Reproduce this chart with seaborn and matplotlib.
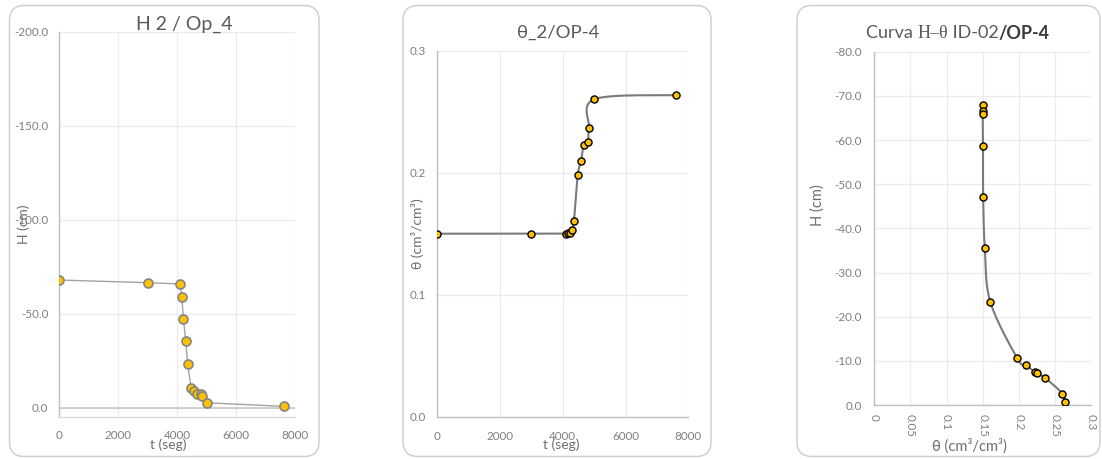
import numpy as np
import matplotlib
matplotlib.use("Agg")
import matplotlib.pyplot as plt
import seaborn as sns
from matplotlib.patches import FancyBboxPatch
from matplotlib.ticker import MultipleLocator, FuncFormatter, FixedLocator

sns.set_theme(style="white")
plt.rcParams['font.family'] = ['Lato', 'DejaVu Sans']
plt.rcParams['axes.unicode_minus'] = False

# Infiltration test readings (ID-02 / OP-4)
t_seg = [0, 3000, 4100, 4160, 4215, 4290, 4355, 4475, 4585, 4660, 4800, 4835, 5010, 7610]
h_cm = [-67.9, -66.5, -65.8, -58.7, -47.0, -35.5, -23.4, -10.6, -9.0, -7.5, -7.3, -6.1, -2.6, -0.7]
theta = [0.150, 0.150, 0.150, 0.1505, 0.1507, 0.153, 0.1605, 0.1978, 0.2098, 0.2225, 0.2255,
         0.2368, 0.2603, 0.2636]

h_ticks = [-200, -150, -100, -50, 0]
t_ticks = [0, 2000, 4000, 6000, 8000]
theta_ticks = [0.0, 0.1, 0.2, 0.3]
hcurve_ticks = [-80, -70, -60, -50, -40, -30, -20, -10, 0]
theta_x_ticks = [0, 0.05, 0.1, 0.15, 0.2, 0.25, 0.3]

W, H = 1102, 459
fig = plt.figure(figsize=(W / 100, H / 100), dpi=100)
fig.patch.set_facecolor('white')

# rounded chart cards
bg = fig.add_axes([0, 0, 1, 1])
bg.set_xlim(0, W)
bg.set_ylim(H, 0)
bg.axis('off')
for x0, x1 in [(9.5, 319), (403, 711), (797, 1100)]:
    bg.add_patch(FancyBboxPatch((x0, 5.5), x1 - x0, 451,
                                boxstyle="round,pad=0,rounding_size=15",
                                fc='white', ec='#D0D0D0', lw=1.1))


def px_axes(l, r, t, b):
    ax = fig.add_axes([l / W, 1 - b / H, (r - l) / W, (b - t) / H])
    ax.set_facecolor('none')
    return ax


def smooth(ax, x, y, n=24):
    pts = ax.transData.transform(np.column_stack([x, y]))
    P = np.vstack([pts[0], pts, pts[-1]])
    out = []
    s = np.linspace(0, 1, n)[:, None]
    for i in range(1, len(P) - 2):
        p0, p1, p2, p3 = P[i - 1], P[i], P[i + 1], P[i + 2]
        c1 = p1 + (p2 - p0) / 6
        c2 = p2 - (p3 - p1) / 6
        seg = (1 - s) ** 3 * p1 + 3 * (1 - s) ** 2 * s * c1 + 3 * (1 - s) * s ** 2 * c2 + s ** 3 * p2
        out.append(seg if i == 1 else seg[1:])
    return ax.transData.inverted().transform(np.vstack(out))


GRID = '#EBEBEB'
AXC = '#BFBFBF'
TICKC = '#7F7F7F'
LABC = '#6E6E6E'
TITC = '#595959'


def style(ax):
    ax.grid(True, color=GRID, lw=0.9)
    ax.set_axisbelow(True)
    for sp in ['top', 'right']:
        ax.spines[sp].set_visible(False)
    for sp in ['left', 'bottom']:
        ax.spines[sp].set_color(AXC)
        ax.spines[sp].set_linewidth(1.0)
    ax.tick_params(colors=TICKC, labelsize=8.4, labelcolor=TICKC)


# ---- H(t) ----
ax1 = px_axes(59.3, 295, 31.7, 416.7)
ax1.set_xlim(0, 8000)
ax1.set_ylim(4.8, -200)
style(ax1)
ax1.spines['bottom'].set_color('#DADADA')
ax1.yaxis.set_major_locator(FixedLocator(h_ticks))
ax1.xaxis.set_major_locator(FixedLocator(t_ticks))
ax1.yaxis.set_major_formatter(FuncFormatter(lambda v, p: f"{v:.1f}"))
ax1.xaxis.set_major_formatter(FuncFormatter(lambda v, p: f"{v:.0f}"))
ax1.tick_params(axis='y', length=4, width=0.9, color=AXC, pad=4)
ax1.tick_params(axis='x', length=0, pad=9.5)
ax1.axhline(0, color='#C4C4C4', lw=1.1, zorder=1)
sns.lineplot(x=t_seg, y=h_cm, ax=ax1, sort=False, estimator=None, color='#A3A3A3', lw=1.0, zorder=2)
sns.scatterplot(x=t_seg, y=h_cm, ax=ax1, s=42, color='#FFC000', edgecolor='#858585',
                linewidth=1.2, zorder=3)
ax1.set_xlabel('t (seg)', fontsize=10, color=LABC)
ax1.set_ylabel('H (cm)', fontsize=10, color=LABC)
ax1.xaxis.set_label_coords(0.462, -0.074)
ax1.yaxis.set_label_coords(-0.150, 0.50)
ax1.xaxis.label.set_va('center')
ax1.yaxis.label.set_va('center')

# ---- theta(t) ----
ax2 = px_axes(437.3, 688.3, 50.7, 416.7)
ax2.set_xlim(0, 8000)
ax2.set_ylim(0, 0.3)
style(ax2)
ax2.yaxis.set_major_locator(FixedLocator(theta_ticks))
ax2.xaxis.set_major_locator(FixedLocator(t_ticks))
ax2.yaxis.set_major_formatter(FuncFormatter(lambda v, p: f"{v:.1f}"))
ax2.xaxis.set_major_formatter(FuncFormatter(lambda v, p: f"{v:.0f}"))
ax2.tick_params(axis='both', length=4, width=0.9, color=AXC)
ax2.tick_params(axis='x', pad=6.5)
ax2.tick_params(axis='y', pad=4.5)
sm2 = smooth(ax2, t_seg, theta)
sns.lineplot(x=sm2[:, 0], y=sm2[:, 1], ax=ax2, sort=False, estimator=None, color='#7A7A7A',
             lw=1.5, zorder=2)
sns.scatterplot(x=t_seg, y=theta, ax=ax2, s=26, color='#FFC000', edgecolor='black',
                linewidth=1.0, zorder=3)
ax2.set_xlabel('t (seg)', fontsize=10, color=LABC)
ax2.set_ylabel('θ (cm³/cm³)', fontsize=10, color=LABC)
ax2.xaxis.set_label_coords(0.495, -0.077)
ax2.yaxis.set_label_coords(-0.077, 0.50)
ax2.xaxis.label.set_va('center')
ax2.yaxis.label.set_va('center')

# ---- H(theta) ----
ax3 = px_axes(874.3, 1091, 51.7, 405)
ax3.set_xlim(0, 0.3)
ax3.set_ylim(0, -80)
style(ax3)
ax3.yaxis.set_major_locator(FixedLocator(hcurve_ticks))
ax3.xaxis.set_major_locator(FixedLocator(theta_x_ticks))
ax3.yaxis.set_minor_locator(MultipleLocator(2))
ax3.xaxis.set_minor_locator(MultipleLocator(0.01))
ax3.yaxis.set_major_formatter(FuncFormatter(lambda v, p: f"{v:.1f}"))
ax3.xaxis.set_major_formatter(FuncFormatter(lambda v, p: f"{v:g}"))
ax3.tick_params(axis='both', which='major', length=0)
ax3.tick_params(axis='both', which='minor', direction='in', length=4, width=0.8, color=AXC)
ax3.tick_params(axis='y', which='major', pad=9)
ax3.tick_params(axis='x', which='major', pad=6.5, labelrotation=-90)
for lab in ax3.get_xticklabels():
    lab.set_va('top')
sm3 = smooth(ax3, theta, h_cm)
sns.lineplot(x=sm3[:, 0], y=sm3[:, 1], ax=ax3, sort=False, estimator=None, color='#7A7A7A',
             lw=1.5, zorder=2)
sns.scatterplot(x=theta, y=h_cm, ax=ax3, s=26, color='#FFC000', edgecolor='black',
                linewidth=1.0, zorder=3)
ax3.set_xlabel('θ (cm³/cm³)', fontsize=10.5, color=LABC)
ax3.set_ylabel('H (cm)', fontsize=10.5, color=LABC)
ax3.xaxis.set_label_coords(0.437, -0.116)
ax3.yaxis.set_label_coords(-0.26, 0.566)
ax3.xaxis.label.set_va('center')
ax3.yaxis.label.set_va('center')

# ---- titles ----
fig.text(184 / W, 1 - 24 / H, 'H 2 / Op_4', ha='center', va='center', fontsize=14, color=TITC)
fig.text(558 / W, 1 - 33 / H, 'θ_2/OP-4', ha='center', va='center', fontsize=13.3, color=TITC)

renderer = fig.canvas.get_renderer()
x_px = 866
pieces = [('Curva ', ['Lato', 'DejaVu Sans'], TITC, 'normal'),
          ('H–θ', ['Liberation Serif', 'DejaVu Serif'], TITC, 'normal'),
          (' ID-02', ['Lato', 'DejaVu Sans'], TITC, 'normal'),
          ('/OP-4', ['Lato', 'DejaVu Sans'], '#3A3A3A', 'bold')]
for txt, fam, col, wt in pieces:
    tt = fig.text(x_px / W, 1 - 33 / H, txt, ha='left', va='center', fontsize=13,
                  color=col, family=fam, fontweight=wt)
    bb = tt.get_window_extent(renderer=renderer)
    x_px += bb.width

fig.savefig('out.png', dpi=100, facecolor='white')
